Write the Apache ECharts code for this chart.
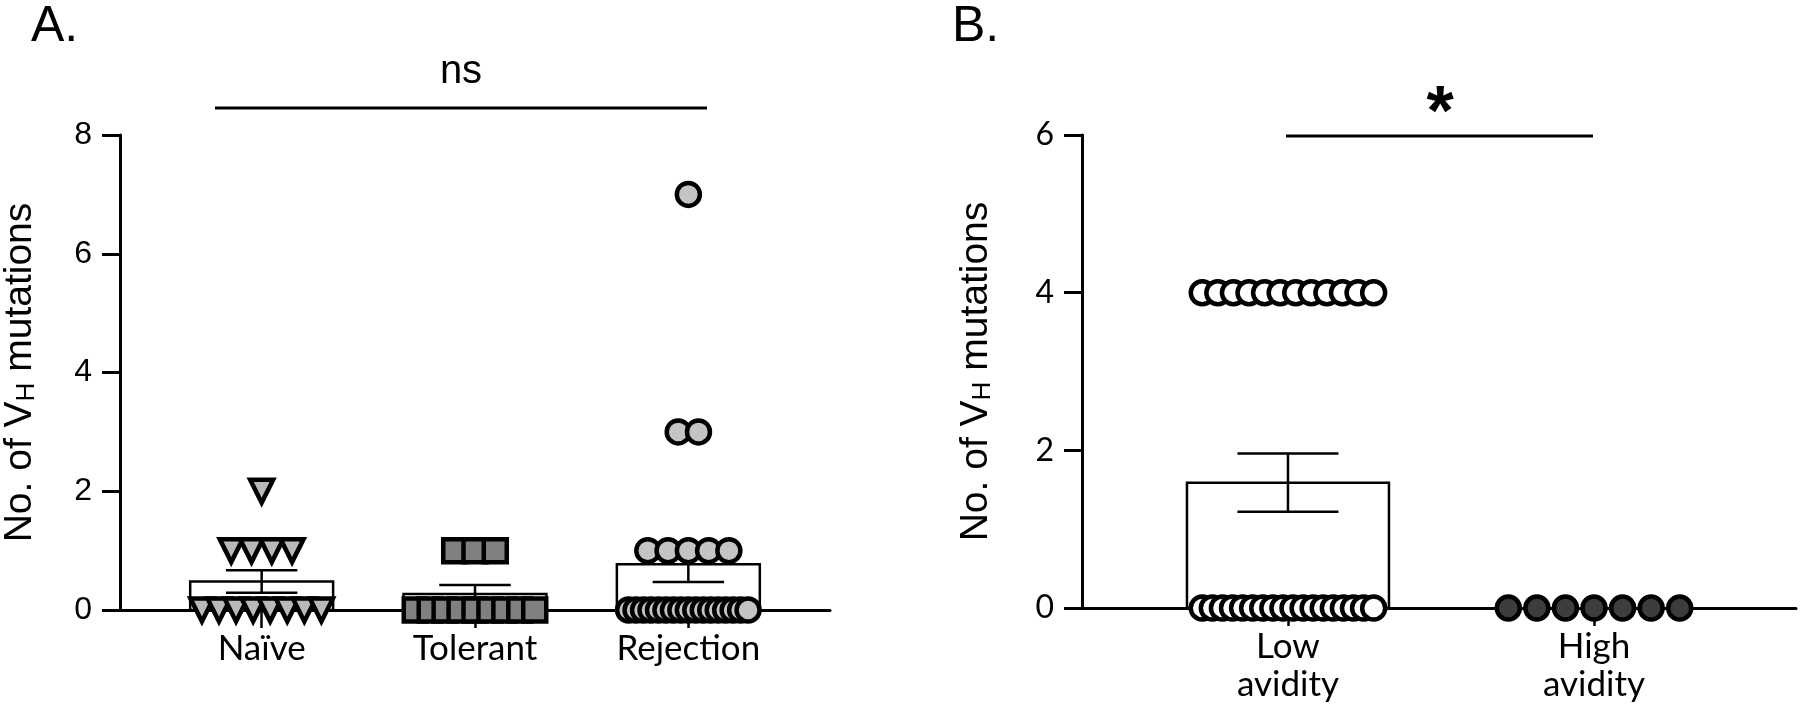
<!DOCTYPE html>
<html>
<head>
<meta charset="utf-8">
<script src="https://cdn.jsdelivr.net/npm/echarts@6/dist/echarts.min.js"></script>
<style>
html, body { margin: 0; padding: 0; background: #fff; }
#main { width: 1800px; height: 721px; }
</style>
</head>
<body>
<div id="main"></div>
<script>
// panel A
var groupsA = ['Naïve', 'Tolerant', 'Rejection'];
var naive = [0, 0, 0, 0, 0, 0, 0, 0, 1, 1, 1, 1, 2];
var tolerant = [0, 0, 0, 0, 0, 0, 0, 0, 0, 1, 1, 1];
var rejection = [0, 0, 0, 0, 0, 0, 0, 0, 0, 0, 0, 0, 0, 0, 0, 0, 0, 1, 1, 1, 1, 1, 3, 3, 7];
var meanA = [0.48, 0.27, 0.77];
var semA = [0.19, 0.15, 0.30];
var ticksA = [0, 2, 4, 6, 8];

// panel B
var groupsB = ['Low\navidity', 'High\navidity'];
var lowAvidity = [0, 0, 0, 0, 0, 0, 0, 0, 0, 0, 0, 0, 0, 0, 0, 0, 0, 0, 4, 4, 4, 4, 4, 4, 4, 4, 4, 4, 4, 4];
var highAvidity = [0, 0, 0, 0, 0, 0, 0];
var meanB = [1.59, 0];
var semB = [0.37, 0];
var ticksB = [0, 2, 4, 6];

var chart = echarts.init(document.getElementById('main'));

// spread points that share a value side by side around the group centre
function swarm(values, center) {
    var counts = {}, seen = {};
    values.forEach(function (v) { counts[v] = (counts[v] || 0) + 1; });
    return values.map(function (v) {
        var k = counts[v];
        seen[v] = seen[v] === undefined ? 0 : seen[v] + 1;
        var step = k > 1 ? Math.min(0.095, 0.56 / (k - 1)) : 0;
        return [center + (seen[v] - (k - 1) / 2) * step, v];
    });
}

function meanBars(means, sems, axis, halfWidth) {
    return {
        type: 'custom',
        xAxisIndex: axis,
        yAxisIndex: axis,
        z: 1,
        silent: true,
        data: means.map(function (m, i) { return [i + 1, m, sems[i]]; }),
        renderItem: function (params, api) {
            var x = api.value(0), m = api.value(1), s = api.value(2);
            var children = [];
            if (m > 0) {
                var p0 = api.coord([x - halfWidth, 0]);
                var p1 = api.coord([x + halfWidth, m]);
                children.push({
                    type: 'rect',
                    shape: { x: p0[0], y: p1[1], width: p1[0] - p0[0], height: p0[1] - p1[1] },
                    style: { fill: '#fff', stroke: '#000', lineWidth: 2.5 }
                });
                var top = api.coord([x, m + s]), bot = api.coord([x, m - s]);
                var cw = (p1[0] - p0[0]) / 4;
                var ls = { stroke: '#000', lineWidth: 2.5 };
                children.push({ type: 'line', shape: { x1: top[0], y1: top[1], x2: bot[0], y2: bot[1] }, style: ls });
                children.push({ type: 'line', shape: { x1: top[0] - cw, y1: top[1], x2: top[0] + cw, y2: top[1] }, style: ls });
                children.push({ type: 'line', shape: { x1: bot[0] - cw, y1: bot[1], x2: bot[0] + cw, y2: bot[1] }, style: ls });
            }
            return { type: 'group', children: children };
        }
    };
}

function dots(values, center, axis, symbol, fill, rotate) {
    return {
        type: 'scatter',
        xAxisIndex: axis,
        yAxisIndex: axis,
        z: 3,
        symbol: symbol,
        symbolSize: 23,
        symbolRotate: rotate || 0,
        itemStyle: { color: fill, borderColor: '#000', borderWidth: 4.5, opacity: 1 },
        data: swarm(values, center)
    };
}

var yName = '{a|No. of V}{b|H}{a| mutations}';
var yNameStyle = {
    rich: {
        a: { fontSize: 39, fontFamily: 'Liberation Sans', color: '#000' },
        b: { fontSize: 26, fontFamily: 'Liberation Sans', color: '#000', lineHeight: 12, verticalAlign: 'bottom' }
    }
};

function yAxisOf(grid, ticks, font, gap) {
    return {
        gridIndex: grid,
        type: 'value',
        min: 0,
        max: ticks[ticks.length - 1],
        interval: 2,
        name: yName,
        nameLocation: 'middle',
        nameRotate: 90,
        nameGap: gap,
        nameTextStyle: yNameStyle,
        axisLine: { show: true, lineStyle: { color: '#000', width: 3 } },
        axisTick: { show: true, length: 18, lineStyle: { color: '#000', width: 3 } },
        axisLabel: { fontSize: 32, fontFamily: font, color: '#000', margin: 28 },
        splitLine: { show: false }
    };
}

function xAxisOf(grid, groups, min, max) {
    var ticks = groups.map(function (g, i) { return i + 1; });
    return {
        gridIndex: grid,
        type: 'value',
        min: min,
        max: max,
        axisLine: { onZero: true, lineStyle: { color: '#000', width: 3 } },
        axisTick: { show: true, customValues: ticks, length: 18, lineStyle: { color: '#000', width: 2.5 } },
        axisLabel: {
            customValues: ticks,
            formatter: function (v) { return groups[Math.round(v) - 1]; },
            fontSize: 35,
            lineHeight: 38,
            fontFamily: 'Lato',
            color: '#000',
            margin: 20
        },
        splitLine: { show: false }
    };
}

var option = {
    backgroundColor: '#fff',
    animation: false,
    grid: [
        { left: 118, top: 135, width: 712, bottom: 111 },
        { left: 1082, top: 135, width: 714, bottom: 113 }
    ],
    xAxis: [
        xAxisOf(0, groupsA, 0.336, 3.664),
        xAxisOf(1, groupsB, 0.327, 2.66)
    ],
    yAxis: [
        yAxisOf(0, ticksA, 'Liberation Sans', 80),
        yAxisOf(1, ticksB, 'Lato', 86)
    ],
    series: [
        meanBars(meanA, semA, 0, 0.335),
        meanBars(meanB, semB, 1, 0.33),
        dots(naive, 1, 0, 'triangle', '#b9b9b9', 180),
        dots(tolerant, 2, 0, 'rect', '#808080'),
        dots(rejection, 3, 0, 'circle', '#c4c4c4'),
        dots(lowAvidity, 1, 1, 'circle', '#ffffff'),
        dots(highAvidity, 2, 1, 'circle', '#3d3d3d')
    ],
    graphic: [
        { type: 'text', left: 31, top: 2, style: { text: 'A.', font: '50px "Liberation Sans"', fill: '#000' } },
        { type: 'text', left: 952, top: 2, style: { text: 'B.', font: '50px "Liberation Sans"', fill: '#000' } },
        { type: 'text', x: 461, y: 72, style: { text: 'ns', font: '40px "Liberation Sans"', fill: '#000', align: 'center', verticalAlign: 'middle' } },
        { type: 'line', shape: { x1: 215, y1: 108, x2: 707, y2: 108 }, style: { stroke: '#000', lineWidth: 3 } },
        { type: 'text', x: 1440, y: 116, style: { text: '*', font: 'bold 70px "Liberation Sans"', fill: '#000', align: 'center', verticalAlign: 'middle' } },
        { type: 'line', shape: { x1: 1286, y1: 136, x2: 1593, y2: 136 }, style: { stroke: '#000', lineWidth: 3 } }
    ]
};

chart.setOption(option);
</script>
</body>
</html>
